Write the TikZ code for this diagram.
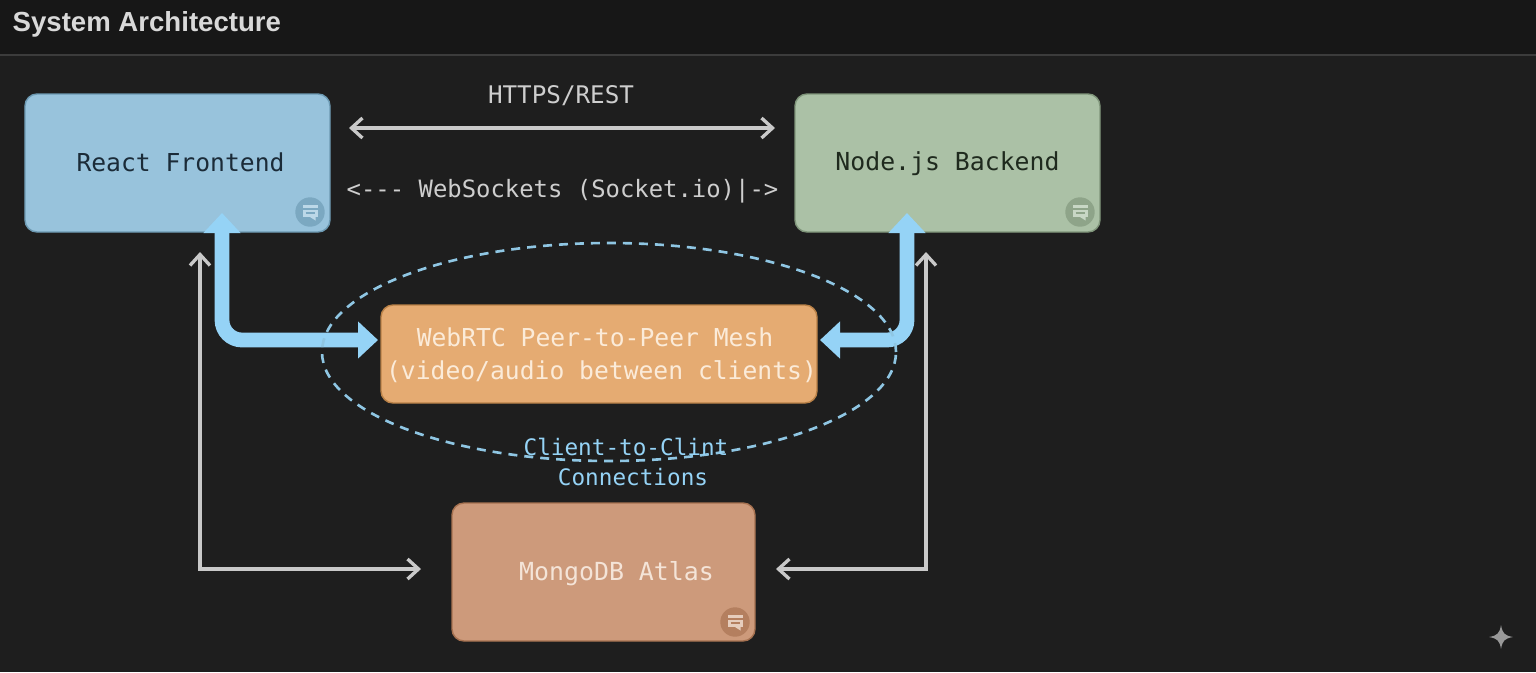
\documentclass[tikz,border=0pt]{standalone}
\usepackage{fontspec}
\setmainfont{Liberation Sans}
\setmonofont{DejaVu Sans Mono}
\usetikzlibrary{arrows.meta,shapes.geometric}
\definecolor{pagebg}{HTML}{1E1E1E}
\definecolor{headbg}{HTML}{171717}
\definecolor{headline}{HTML}{3C3C3C}
\definecolor{greyline}{HTML}{C9C9C9}
\definecolor{skyline}{HTML}{95D3F6}
\definecolor{dashline}{HTML}{8FC6E3}
\definecolor{reactfill}{HTML}{98C3DC}
\definecolor{reactedge}{HTML}{6C99B2}
\definecolor{reacttext}{HTML}{1B2B38}
\definecolor{nodefill}{HTML}{ABC1A6}
\definecolor{nodeedge}{HTML}{7F957A}
\definecolor{nodetext}{HTML}{1F2A1E}
\definecolor{meshfill}{HTML}{E5AB72}
\definecolor{meshedge}{HTML}{B98147}
\definecolor{meshtext}{HTML}{FBEBD9}
\definecolor{mongofill}{HTML}{CD9A7B}
\definecolor{mongoedge}{HTML}{A67150}
\definecolor{mongotext}{HTML}{F4E4D8}
\newcommand{\nudge}[2]{\raisebox{#1}[\height][\depth]{#2}}
\tikzset{
    monotext/.style={font=\ttfamily\fontsize{7.02}{9.4}\selectfont},
    box/.style={rectangle, rounded corners=0.12cm, line width=0.4pt, inner sep=0pt, monotext, align=center},
    greyarrow/.style={draw=greyline, line width=0.95pt, {Straight Barb[length=0.11cm,width=0.2cm]}-{Straight Barb[length=0.11cm,width=0.2cm]}},
    skyarrow/.style={draw=skyline, line width=4.2pt, rounded corners=0.2cm, {Triangle[length=0.2cm,width=0.36cm]}-{Triangle[length=0.2cm,width=0.36cm]}},
    pics/notebadge/.style 2 args={code={
        \fill[#1] (0,0) circle (0.147);
        \fill[#2] (-0.075,0.075) rectangle (0.075,-0.05);
        \fill[#2] (0,-0.05) -- (0.055,-0.05) -- (0.055,-0.085) -- cycle;
        \draw[#1, line width=0.4pt] (-0.075,0.03) -- (0.075,0.03);
        \draw[#1, line width=0.4pt] (-0.045,-0.01) -- (0.045,-0.01);
    }}
}
\begin{document}
\begin{tikzpicture}
    \useasboundingbox (0,0) rectangle (15.36,-6.72);
    \fill[pagebg] (0,0) rectangle (15.36,-6.72);
    \fill[headbg] (0,0) rectangle (15.36,-0.55);
    \draw[headline, line width=0.4pt] (0,-0.55) -- (15.36,-0.55);
    \node[anchor=west, inner sep=0pt, text=white!85!black, font=\bfseries\fontsize{7.85}{9}\selectfont] (title) at (0.12,-0.245) {System Architecture};

    % boxes
    \node[box, fill=reactfill, draw=reactedge, text=reacttext, minimum width=3.05cm, minimum height=1.38cm] (react) at (1.775,-1.63) {\nudge{0.01cm}{\hspace*{0.06cm}React Frontend}};
    \node[box, fill=nodefill, draw=nodeedge, text=nodetext, minimum width=3.05cm, minimum height=1.38cm] (backend) at (9.475,-1.63) {\nudge{-0.01cm}{\fontsize{7.06}{9.4}\selectfont Node.js Backend}};
    \node[box, fill=meshfill, draw=meshedge, text=meshtext, minimum width=4.36cm, minimum height=0.98cm] (mesh) at (5.99,-3.54) {\nudge{-0.012cm}{WebRTC Peer-to-Peer Mesh\hspace*{0.08cm}}\\\nudge{-0.012cm}{\hspace*{0.05cm}(video/audio between clients)}};
    \node[box, fill=mongofill, draw=mongoedge, text=mongotext, minimum width=3.03cm, minimum height=1.38cm] (mongo) at (6.035,-5.72) {\nudge{-0.02cm}{\hspace*{0.26cm}\fontsize{7.08}{9.4}\selectfont MongoDB Atlas}};

    \pic at (3.10,-2.12) {notebadge={reactedge!65!reactfill}{reactfill!65!white}};
    \pic at (10.80,-2.12) {notebadge={nodeedge!65!nodefill}{nodefill!65!white}};
    \pic at (7.35,-6.22) {notebadge={mongoedge!65!mongofill}{mongofill!50!white}};

    % free ends of the connectors
    \coordinate (restL) at (3.49,-1.28);
    \coordinate (restR) at (7.75,-1.28);
    \coordinate (reactTip) at (2.22,-2.13);
    \coordinate (backendTip) at (9.07,-2.13);
    \coordinate (meshL) at (3.78,-3.40);
    \coordinate (meshR) at (8.20,-3.40);
    \coordinate (reactGrey) at (2.00,-2.52);
    \coordinate (backendGrey) at (9.26,-2.52);
    \coordinate (mongoL) at (4.21,-5.69);
    \coordinate (mongoR) at (7.76,-5.69);

    \draw[greyarrow] (restL) -- (restR);
    \draw[greyarrow] (reactGrey) |- (mongoL);
    \draw[greyarrow] (backendGrey) |- (mongoR);
    \draw[skyarrow] (reactTip) |- (meshL);
    \draw[skyarrow] (backendTip) |- (meshR);

    \node[ellipse, draw=dashline, line width=0.75pt, dash pattern=on 0.09cm off 0.07cm, minimum width=5.74cm, minimum height=2.18cm, inner sep=0pt] (clients) at (6.09,-3.52) {};

    \node[inner sep=0pt, text=greyline!90!white, font=\ttfamily\fontsize{6.9}{9}\selectfont] (resttext) at (5.61,-0.96) {HTTPS/REST};
    \node[inner sep=0pt, text=greyline!90!white, font=\ttfamily\fontsize{6.8}{9}\selectfont] (socktext) at (5.625,-1.91) {<--- WebSockets (Socket.io)|->};
    \node[text=skyline, inner sep=0pt, align=center, font=\ttfamily\fontsize{6.45}{8.8}\selectfont] (cliptext) at (6.26,-4.62) {Client-to-Clint\\\hspace*{0.14cm}Connections};

    % corner sparkle
    \fill[gray!80!white] (15.01,-6.25) .. controls (15.025,-6.335) and (15.045,-6.355) .. (15.13,-6.37) .. controls (15.045,-6.385) and (15.025,-6.405) .. (15.01,-6.49) .. controls (14.995,-6.405) and (14.975,-6.385) .. (14.89,-6.37) .. controls (14.975,-6.355) and (14.995,-6.335) .. (15.01,-6.25) -- cycle;
\end{tikzpicture}
\end{document}
